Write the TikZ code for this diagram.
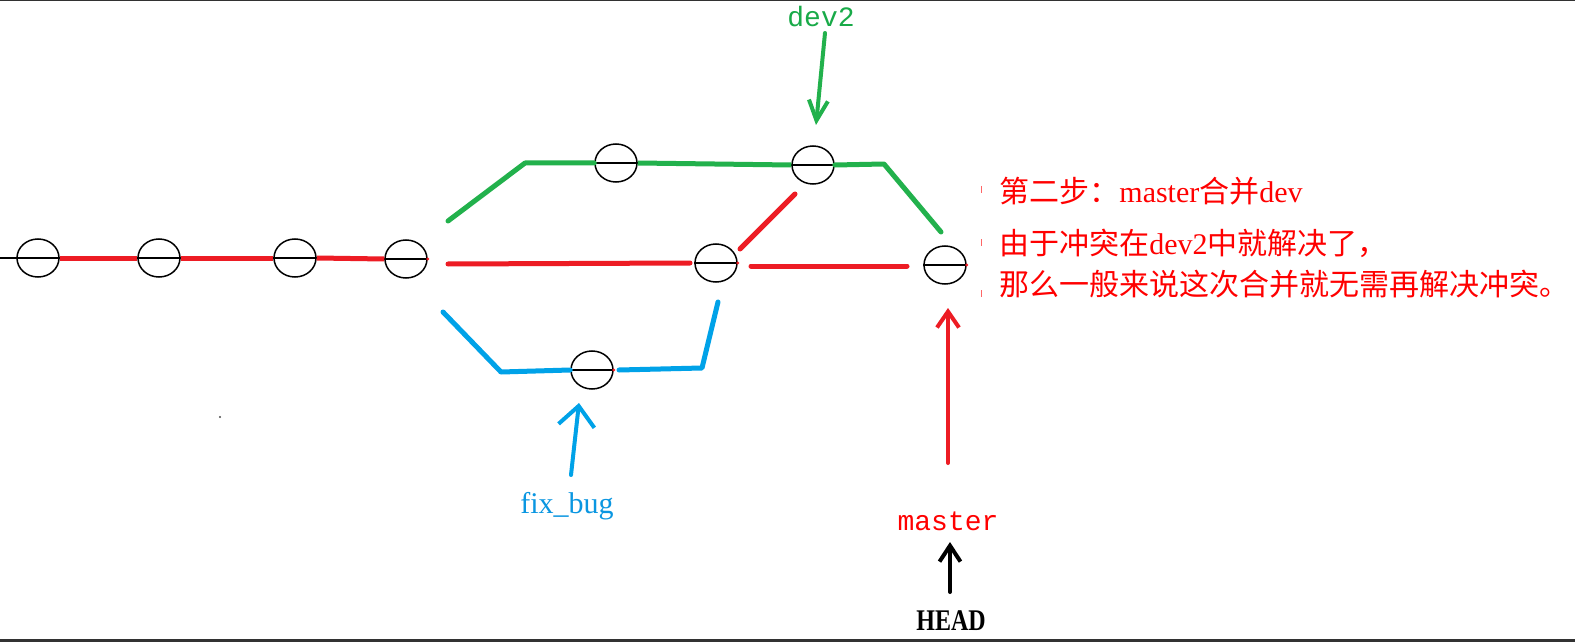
\documentclass[tikz,border=0pt]{standalone}
\usepackage{fontspec}
\setmainfont{Liberation Serif}
\newfontfamily\cjk{Noto Sans CJK SC}
\newfontfamily\monof{Liberation Mono}
\usetikzlibrary{shapes.geometric,arrows.meta}
\definecolor{lgreen}{RGB}{34,177,76}
\definecolor{lred}{RGB}{237,28,36}
\definecolor{lblue}{RGB}{0,162,232}
\definecolor{tred}{RGB}{255,0,0}
\definecolor{tgreen}{RGB}{24,170,72}
\definecolor{tblue}{RGB}{10,150,225}
\definecolor{framec}{RGB}{50,50,50}
\tikzset{
  commit/.style={draw=black, line width=0.75pt, ellipse, minimum width=21pt, minimum height=19pt, inner sep=0pt},
  diam/.style={black, line width=0.8pt},
  gline/.style={lgreen, line width=2.5pt, line cap=round, line join=round},
  rline/.style={lred, line width=2.5pt, line cap=round, line join=round},
  bline/.style={lblue, line width=2.5pt, line cap=round, line join=round},
  parrow/.style={line width=2pt, line cap=round, line join=round},
  zhtext/.style={anchor=base west, text=tred, inner sep=0pt, font=\fontsize{15pt}{18pt}\selectfont},
}
\begin{document}
\begin{tikzpicture}[x=0.5pt,y=-0.5pt]
\useasboundingbox (0,0) rectangle (1575,642);
\fill[white] (0,0) rectangle (1575,642);
\draw[framec, line width=0.6pt] (0,0.6) -- (1575,0.6);
\draw[framec, line width=1.2pt] (0,640.5) -- (1575,640.5);

% commits
\node[commit] (c1) at (38,258) {};
\node[commit] (c2) at (159,258) {};
\node[commit] (c3) at (295,258) {};
\node[commit] (c4) at (406,259) {};
\node[commit] (c5) at (616,163) {};
\node[commit] (c6) at (813,165) {};
\node[commit] (c7) at (716,263) {};
\node[commit] (c8) at (945,265) {};
\node[commit] (c9) at (592,370) {};
\foreach \c in {c1,c2,c3,c4,c5,c6,c7,c8,c9} \draw[diam] (\c.west) -- (\c.east);
\foreach \c in {c4,c7,c8,c9} \fill[lred] (\c.east) circle (1.6);

% main line
\coordinate (start) at (0,258);
\draw[diam] (start) -- (c1.west);
\draw[rline, line cap=butt] (c1.east) -- (c2.west);
\draw[rline, line cap=butt] (c2.east) -- (c3.west);
\draw[rline, line cap=butt] (c3.east) -- (c4.west);

% green branch
\coordinate (g0) at (448,221);
\coordinate (g1) at (525,163);
\coordinate (g2) at (884,164);
\coordinate (g3) at (941,232);
\draw[gline] (g0) -- (g1) -- (c5.west);
\draw[gline, line cap=butt] (c5.east) -- (c6.west);
\draw[gline] (c6.east) -- (g2) -- (g3);

% red segments
\coordinate (r0) at (448,264);
\coordinate (r1) at (690,263);
\coordinate (r2) at (740,249);
\coordinate (r3) at (795,194);
\coordinate (r4) at (751,266);
\coordinate (r5) at (907,266);
\draw[rline] (r0) -- (r1);
\draw[rline] (r2) -- (r3);
\draw[rline] (r4) -- (r5);

% blue branch
\coordinate (b0) at (443,312);
\coordinate (b1) at (501,372);
\coordinate (b2s) at (619,370);
\coordinate (b2) at (702,368);
\coordinate (b3) at (718,302);
\draw[bline] (b0) -- (b1) -- (c9.west);
\draw[bline] (b2s) -- (b2) -- (b3);

% labels
\node[anchor=base, text=tgreen, inner sep=0pt, font=\monof\fontsize{14pt}{16pt}\selectfont] (dev2) at (821,27) {dev2};
\node[anchor=base, text=tblue, inner sep=0pt, font=\fontsize{15pt}{18pt}\selectfont] (fix) at (567,513) {fix\_bug};
\node[anchor=base, text=tred, inner sep=0pt, font=\monof\fontsize{14pt}{16pt}\selectfont] (master) at (948,530) {master};
\node[anchor=base, inner sep=0pt, font=\bfseries\fontsize{15pt}{18pt}\selectfont] (head) at (951,630) {\scalebox{0.8}[1]{HEAD}};

% arrows
\coordinate (dtail) at (825,33);
\coordinate (dtip) at (816,125);
\draw[parrow, lgreen, -{Straight Barb[length=10pt,width=9.5pt]}] (dtail) -- (dtip);
\coordinate (ftail) at (571,475);
\coordinate (ftip) at (579,403);
\draw[parrow, lblue, -{Straight Barb[length=10pt,width=18pt]}] (ftail) -- (ftip);
\coordinate (mtail) at (948,463);
\coordinate (mtip) at (948,308);
\draw[parrow, lred, -{Straight Barb[length=8pt,width=11pt]}] (mtail) -- (mtip);
\coordinate (htail) at (950,592);
\coordinate (htip) at (950,542);
\draw[parrow, black, -{Straight Barb[length=8pt,width=10.5pt]}] (htail) -- (htip);

% explanation
\node[zhtext] (t1) at (999,202) {{\cjk 第二步：}master{\cjk 合并}dev};
\node[zhtext] (t2) at (999,254) {{\cjk 由于冲突在}dev2{\cjk 中就解决了，}};
\node[zhtext] (t3) at (999,295) {\cjk 那么一般来说这次合并就无需再解决冲突。};
\foreach \yy in {186,239,290} \draw[tred!60, line width=0.5pt] (981,\yy) -- (981,\yy+7);
\fill[black!70] (220,417) circle (1.2);
\end{tikzpicture}
\end{document}
